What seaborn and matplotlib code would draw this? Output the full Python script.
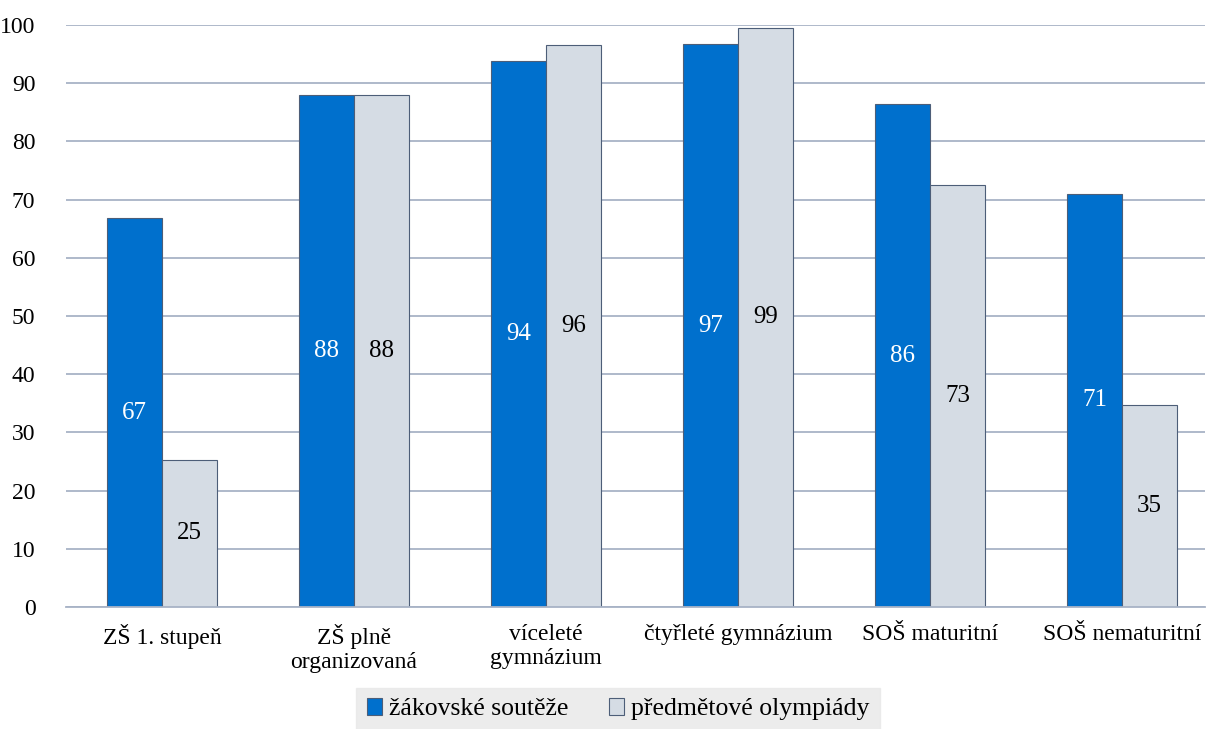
import matplotlib
matplotlib.use("Agg")
import matplotlib.pyplot as plt
import seaborn as sns
import pandas as pd
from matplotlib.patches import Patch

categories = ["ZŠ 1. stupeň", "ZŠ plně\norganizovaná", "víceleté\ngymnázium",
              "čtyřleté gymnázium", "SOŠ maturitní", "SOŠ nematuritní"]
series_names = ["žákovské soutěže", "předmětové olympiády"]
zakovske = [66.8, 88.0, 93.8, 96.7, 86.4, 71.0]
olympiady = [25.3, 88.0, 96.5, 99.5, 72.5, 34.7]
zakovske_labels = ["67", "88", "94", "97", "86", "71"]
olympiady_labels = ["25", "88", "96", "99", "73", "35"]
yticks = [0, 10, 20, 30, 40, 50, 60, 70, 80, 90, 100]

colors = ["#0070CD", "#D5DCE4"]
text_colors = ["white", "black"]
FONT = ["Liberation Serif", "DejaVu Serif"]

df = pd.DataFrame({
    "kategorie": categories * 2,
    "hodnota": zakovske + olympiady,
    "serie": [series_names[0]] * 6 + [series_names[1]] * 6,
})

sns.set_theme(style="white")
plt.rcParams["font.family"] = FONT
plt.rcParams["text.color"] = "black"
plt.rcParams["xtick.color"] = "black"
plt.rcParams["ytick.color"] = "black"

fig = plt.figure(figsize=(12.08, 7.29), dpi=100)
ax = fig.add_axes([66 / 1208, 1 - 607 / 729, (1205 - 66) / 1208, (607 - 25) / 729])

sns.barplot(data=df, x="kategorie", y="hodnota", hue="serie", order=categories,
            hue_order=series_names, palette=colors, width=0.575, ax=ax,
            edgecolor="#4D5E78", linewidth=0.8, legend=False, saturation=1)

all_labels = [zakovske_labels, olympiady_labels]
for i, cont in enumerate(ax.containers):
    ax.bar_label(cont, labels=all_labels[i], label_type="center", color=text_colors[i],
                 fontsize=18, family=FONT)

ax.set_ylim(0, 100)
ax.set_xlim(-0.5, -0.5 + 1139 / 192)
ax.set_yticks(yticks)
ax.set_yticklabels([str(t) for t in yticks], fontsize=17, family=FONT, color="black")
ax.set_xticks(range(len(categories)))
ax.set_xticklabels(categories, fontsize=17, family=FONT, color="black")
ax.tick_params(axis="x", length=0, pad=12)
ax.tick_params(axis="y", length=0, pad=22)
ax.set_xlabel("")
ax.set_ylabel("")
ax.yaxis.grid(True, color="#A8B3C6", linewidth=1.3)
ax.set_axisbelow(True)
for s in ["top", "right", "left"]:
    ax.spines[s].set_visible(False)
ax.spines["bottom"].set_color("#A8B3C6")
ax.spines["bottom"].set_linewidth(1.3)

handles = [Patch(facecolor=colors[i], edgecolor="#4D5E78", linewidth=0.8, label=series_names[i])
           for i in range(2)]
leg = fig.legend(handles=handles, loc="lower center", bbox_to_anchor=(618 / 1208, -0.02),
                 ncol=2, frameon=True, prop={"family": FONT, "size": 18.5},
                 handlelength=0.6, handleheight=0.6, labelcolor="black",
                 handletextpad=0.25, columnspacing=1.6, borderpad=0.4, fancybox=False)
leg.get_frame().set_facecolor("#E8E8E8")
leg.get_frame().set_edgecolor("#E8E8E8")

fig.savefig("out.png", dpi=100)
